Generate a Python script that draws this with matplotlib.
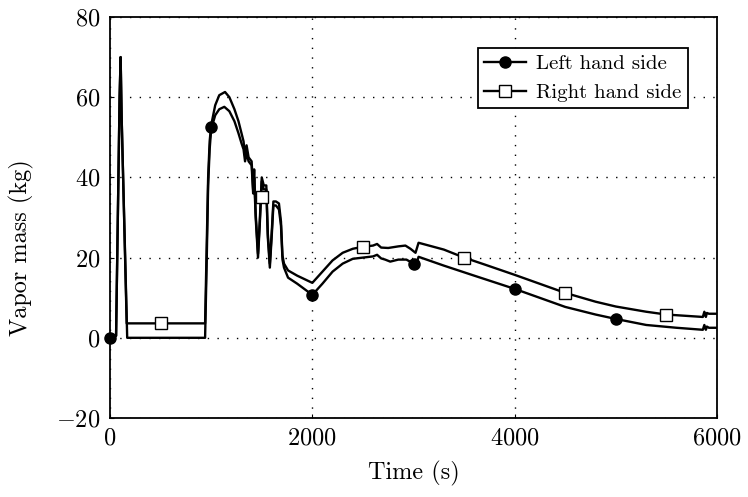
import matplotlib
matplotlib.use('Agg')
import matplotlib.pyplot as plt
from matplotlib.lines import Line2D

# Left hand side vapor mass (kg) vs time (s)
t_left = [0, 60, 95, 105, 115, 170, 940, 955, 970, 985, 1000, 1040, 1080, 1130,
          1180, 1230, 1270, 1300, 1320, 1335, 1350, 1370, 1400, 1415, 1425, 1440,
          1463, 1480, 1500, 1520, 1545, 1560, 1580, 1600, 1615, 1640, 1670, 1690,
          1705, 1720, 1760, 1850, 2000, 2100, 2200, 2300, 2400, 2500, 2600, 2640,
          2680, 2720, 2770, 2850, 2930, 3000, 3030, 3050, 3300, 3600, 4000, 4300,
          4500, 4800, 5000, 5300, 5600, 5860, 5875, 5890, 5900, 5920, 6000]
m_left = [0, 0.5, 60, 70, 55, 0, 0, 18, 38, 47, 52, 55.5, 57, 57.6,
          56.5, 54, 51, 48.5, 47, 44, 46, 44, 43, 36, 40, 30,
          20, 28, 39, 37, 37, 25, 17.5, 26, 33, 33, 32, 28,
          19.5, 17.5, 15, 13.5, 10.7, 13.5, 16.5, 18.5, 19.7, 20, 20.3, 20.7,
          19.8, 19.5, 19, 19.5, 19.5, 18.5, 18.5, 20.2, 18, 15.5, 12.2, 9.5,
          7.7, 5.8, 4.7, 3.2, 2.5, 2, 3.2, 2, 2.8, 2.5, 2.5]

# Right hand side
t_right = [0, 60, 95, 105, 115, 165, 940, 955, 970, 985, 1000, 1040, 1080, 1137,
           1180, 1230, 1270, 1300, 1320, 1335, 1350, 1370, 1400, 1415, 1425, 1440,
           1463, 1480, 1500, 1520, 1545, 1560, 1580, 1600, 1615, 1640, 1670, 1690,
           1705, 1720, 1760, 1850, 2000, 2100, 2200, 2300, 2400, 2500, 2600, 2640,
           2680, 2750, 2850, 2920, 2970, 3020, 3050, 3300, 3500, 3700, 4000, 4300,
           4500, 4800, 5000, 5300, 5500, 5860, 5875, 5890, 5900, 5920, 6000]
m_right = [0, 0.5, 60, 70, 55, 3.6, 3.6, 22, 40, 49, 53, 58, 60.5, 61.3,
           60, 57, 54, 51, 49, 45.5, 48, 45, 44, 37, 42, 31,
           21, 29, 40, 38, 38, 26, 18.5, 27, 34, 34, 33.5, 29,
           20.5, 18.5, 16.8, 15.5, 13.7, 16.5, 19.3, 21.2, 22.2, 22.7, 23, 23.4,
           22.5, 22.4, 22.8, 23, 22.2, 21.2, 23.7, 22, 20, 18.3, 15.7, 13,
           11.2, 9, 7.8, 6.5, 5.8, 5.2, 6.5, 5.2, 6.2, 6, 6]

# marker positions
mk_left_t = [0, 1000, 2000, 3000, 4000, 5000]
mk_left_m = [0, 52.5, 10.7, 18.5, 12.2, 4.7]
mk_right_t = [500, 1500, 2500, 3500, 4500, 5500]
mk_right_m = [3.6, 35, 22.7, 20, 11.2, 5.8]

labels = ['Left hand side', 'Right hand side']

plt.rcParams['font.family'] = 'serif'
plt.rcParams['font.serif'] = ['cmr10', 'DejaVu Serif']
plt.rcParams['mathtext.fontset'] = 'cm'
plt.rcParams['axes.formatter.use_mathtext'] = True

fig = plt.figure(figsize=(7.48, 4.97), dpi=100)
ax = fig.add_axes([110 / 748, 1 - 418 / 497, 607 / 748, 401 / 497])

lw = 1.7
ax.plot(t_left, m_left, color='black', linewidth=lw, zorder=3)
ax.plot(t_right, m_right, color='black', linewidth=lw, zorder=3)
ax.plot(mk_left_t, mk_left_m, 'o', color='black', markersize=8, zorder=4, clip_on=False)
ax.plot(mk_right_t, mk_right_m, 's', markerfacecolor='white', markeredgecolor='black',
        markeredgewidth=1.0, markersize=8, zorder=4)

ax.set_xlim(0, 6000)
ax.set_ylim(-20, 80)
ax.set_xticks([0, 2000, 4000, 6000])
ax.set_yticks([-20, 0, 20, 40, 60, 80])
ax.grid(True, color='black', linestyle=(0, (1, 6)), linewidth=1.0)
ax.tick_params(direction='in', length=3, labelsize=17.5, pad=7)
for s in ax.spines.values():
    s.set_linewidth(1.3)

ax.set_xlabel('Time (s)', fontsize=17.5, labelpad=8)
ax.set_ylabel('Vapor mass (kg)', fontsize=17.5)
ax.yaxis.set_label_coords(-0.125, 0.426)

handles = [Line2D([], [], color='black', linewidth=lw, marker='o', markersize=8),
           Line2D([], [], color='black', linewidth=lw, marker='s', markersize=8,
                  markerfacecolor='white', markeredgewidth=1.0)]
leg = ax.legend(handles, labels, loc='upper right', bbox_to_anchor=(0.9522, 0.9227),
                borderaxespad=0, fontsize=15, fancybox=False, framealpha=1,
                edgecolor='black', handlelength=2.0, handletextpad=0.5,
                labelspacing=0.5, borderpad=0.3)
leg.get_frame().set_linewidth(1.3)

fig.savefig('out.png', dpi=100)
